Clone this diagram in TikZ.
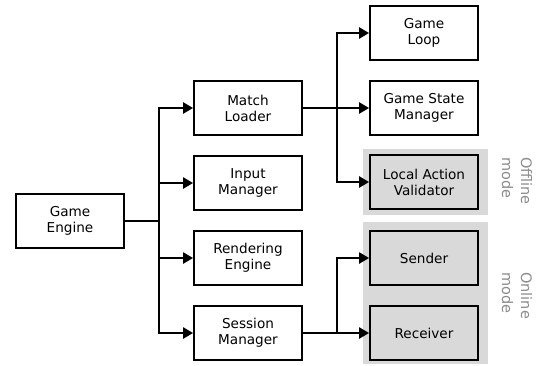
\documentclass[tikz,border=0pt]{standalone}
\usepackage{fontspec}
\setmainfont{DejaVu Sans}
\usetikzlibrary{arrows.meta}
\definecolor{panel}{HTML}{D9D9D9}
\definecolor{modetext}{HTML}{8C8C8C}
\begin{document}
\begin{tikzpicture}[x=1pt,y=-1pt,
  box/.style={draw,line width=1.8pt,minimum width=108pt,minimum height=54pt,align=center,
    font=\fontsize{13.6}{16}\selectfont,inner sep=0pt},
  gbox/.style={box,fill=panel},
  conn/.style={line width=2.3pt},
  arr/.style={conn,-{Triangle[length=10pt,width=11pt]}},
  modelabel/.style={rotate=-90,align=left,anchor=west,inner sep=0pt,text=modetext,
    font=\fontsize{14.5}{19}\selectfont}]
\useasboundingbox (0,0) rectangle (537,365);
\fill[white] (0,0) rectangle (537,365);
\fill[panel] (363,149) rectangle (488,215);
\fill[panel] (363,222) rectangle (488,364);
% left column
\node[box] (ge) at (70,221) {Game\\Engine};
% middle column
\node[box] (ml) at (248,108) {Match\\Loader};
\node[box] (im) at (248,183) {Input\\Manager};
\node[box] (re) at (248,258) {Rendering\\Engine};
\node[box] (sm) at (248,333) {Session\\Manager};
% right column
\node[box] (gl) at (424,33) {Game\\Loop};
\node[box] (gs) at (424,108) {Game State\\Manager};
\node[gbox] (lv) at (424,182) {Local Action\\Validator};
\node[gbox] (se) at (424,258) {Sender};
\node[gbox] (rc) at (424,333) {Receiver};
% mode labels
\node[modelabel] (off) at (517,157) {Offline\\mode};
\node[modelabel] (on) at (517,272) {Online\\mode};
% junctions
\coordinate (j1) at (159,221);
\coordinate (j2) at (337,108);
\coordinate (j3) at (337,333);
% connectors
\draw[conn] (ge.east) -- (j1);
\draw[arr] (j1) |- (ml.west);
\draw[arr] (j1) |- (im.west);
\draw[arr] (j1) |- (re.west);
\draw[arr] (j1) |- (sm.west);
\draw[conn] (ml.east) -- (j2);
\draw[arr] (j2) |- (gl.west);
\draw[arr] (j2) -- (gs.west);
\draw[arr] (j2) |- (lv.west);
\draw[conn] (sm.east) -- (j3);
\draw[arr] (j3) |- (se.west);
\draw[arr] (j3) -- (rc.west);
\end{tikzpicture}
\end{document}
